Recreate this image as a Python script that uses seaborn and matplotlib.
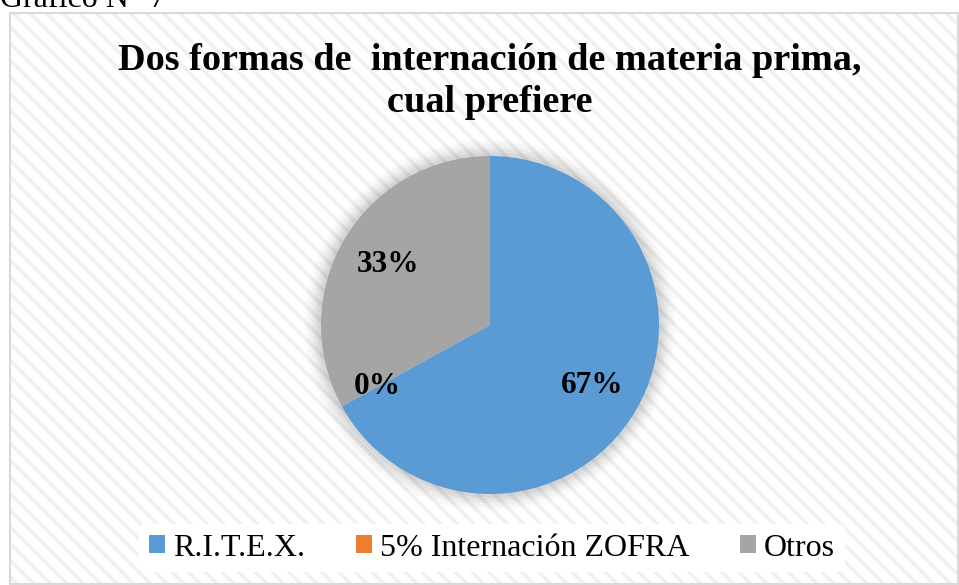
import matplotlib
matplotlib.use("Agg")
import numpy as np
import matplotlib.pyplot as plt
from matplotlib.patches import Rectangle, Circle, Patch
import seaborn as sns

categories = ["R.I.T.E.X.", "5% Internación ZOFRA", "Otros"]
values = [67, 0, 33]
colors = ["#5B9BD5", "#ED7D31", "#A5A5A5"]
title_lines = ["Dos formas de  internación de materia prima,", "cual prefiere"]

sns.set_theme(style="white")
plt.rcParams["font.family"] = ["Liberation Serif", "DejaVu Serif"]
plt.rcParams["text.color"] = "black"
plt.rcParams["hatch.linewidth"] = 2.5
plt.rcParams["hatch.color"] = "#F0F0F0"

W, H = 959, 585
fig = plt.figure(figsize=(W / 100, H / 100), dpi=100)
fig.patch.set_facecolor("white")

# chart frame with diagonal stripes
frame = Rectangle((10 / W, 0 / H), (W - 10) / W, (H - 13) / H, transform=fig.transFigure,
                  facecolor="white", edgecolor="#F0F0F0", linewidth=0,
                  hatch="\\\\", zorder=-5)
fig.patches.append(frame)
frame2 = Rectangle((10 / W, 1 / H), (W - 11) / W, (H - 14) / H, transform=fig.transFigure,
                   facecolor="none", edgecolor="#D9D9D9", linewidth=1.5, zorder=-4)
fig.patches.append(frame2)

fig.text(0.0, 1 - 7 / H, "Gráfico N° 7", fontsize=23, va="baseline", ha="left",
         color="black")

for line, base in zip(title_lines, [70, 112]):
    fig.text(490 / W, 1 - base / H, line, fontsize=27.5, fontweight="bold", ha="center",
             va="baseline", color="black")

ax = fig.add_axes([0, 0, 1, 1])
ax.set_facecolor("none")
# soft shadow
for i, a in enumerate([0.015, 0.02, 0.025, 0.03, 0.035, 0.04]):
    ax.add_patch(Circle((0, 0), 1.10 - i * 0.016, color="black", alpha=a, lw=0, zorder=0))

wedges, texts, autotexts = ax.pie(values, colors=colors, startangle=90, counterclock=False,
                                  autopct="%1.0f%%", pctdistance=0.70, radius=1,
                                  wedgeprops=dict(linewidth=0),
                                  textprops=dict(fontsize=22.5, fontweight="bold", color="black"))
for w in wedges:
    w.set_zorder(2)
for t in autotexts:
    t.set_zorder(3)
# the zero-size slice label sits a bit further out, as in the original
th = np.deg2rad((wedges[1].theta1 + wedges[1].theta2) / 2)
autotexts[1].set_position((0.76 * np.cos(th), 0.76 * np.sin(th)))

ax.set_xlim(-1.12, 1.12)
ax.set_ylim(-1.12, 1.12)
ax.set_position([(490 - 169 * 1.12) / W, (H - 325 - 169 * 1.12) / H,
                 2 * 169 * 1.12 / W, 2 * 169 * 1.12 / H])
ax.set_aspect("equal")
ax.axis("off")

handles = [Patch(facecolor=c, edgecolor="none") for c in colors]
leg = fig.legend(handles, categories, loc="center", bbox_to_anchor=(492 / W, 1 - 548 / H),
                 ncol=3, frameon=True, fontsize=23, handlelength=0.5, handleheight=0.5,
                 handletextpad=0.25, columnspacing=1.6, borderpad=0.3)
leg.get_frame().set_facecolor("white")
leg.get_frame().set_edgecolor("none")
leg.get_frame().set_alpha(1)
for t in leg.get_texts():
    t.set_color("black")

fig.savefig("out.png", dpi=100)
